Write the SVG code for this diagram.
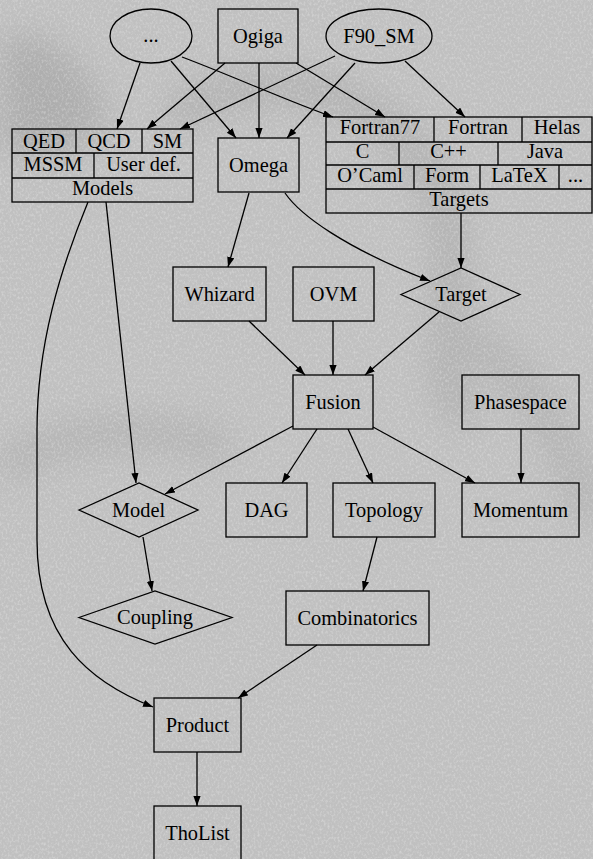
<svg xmlns="http://www.w3.org/2000/svg" width="593" height="859" viewBox="0 0 593 859">
<defs>
<filter id="tex" x="0" y="0" width="100%" height="100%">
<feTurbulence type="fractalNoise" baseFrequency="0.5 0.35" numOctaves="2" seed="7"/>
<feColorMatrix type="matrix" values="0 0 0 0 1  0 0 0 0 1  0 0 0 0 1  1.4 0 0 0 -0.62"/>
</filter>
<filter id="blur" x="-50%" y="-50%" width="200%" height="200%"><feGaussianBlur stdDeviation="16"/></filter>
<marker id="ah" markerWidth="10" markerHeight="8" refX="10" refY="3.6" orient="auto" markerUnits="userSpaceOnUse">
<path d="M0,0 L10,3.6 L0,7.2 z" fill="#000"/>
</marker>
</defs>
<style>
.n rect,.n ellipse,.n polygon,.n line{fill:none;stroke:#000;stroke-width:1.3}
text{font-family:"Liberation Serif","Times New Roman",serif;font-size:20.4px;text-anchor:middle;fill:#000}
#edges path{fill:none;stroke:#000;stroke-width:1.3;marker-end:url(#ah)}
</style>
<rect width="593" height="859" fill="#c0c0c0"/>
<g filter="url(#blur)" opacity="0.6">
<path d="M0,40 C40,20 90,60 110,120 L60,160 L0,150 z" fill="#a2a2a2"/>
<path d="M170,120 C250,60 400,80 440,200 C470,300 420,380 470,420" fill="none" stroke="#a8a8a8" stroke-width="36"/>
<path d="M0,470 C60,430 150,420 230,450" fill="none" stroke="#acacac" stroke-width="36"/>
<path d="M440,330 C500,340 560,420 593,520" fill="none" stroke="#acacac" stroke-width="36"/>
</g>
<rect width="593" height="859" filter="url(#tex)" opacity="0.5"/>

<g id="edges">
<path d="M140,63 L117,129"/>
<path d="M171,61 L236,138"/>
<path d="M182,57 C230,75 290,102 333,117"/>
<path d="M225,63 L147,129"/>
<path d="M259,63 L259,138"/>
<path d="M296,63 L385,117"/>
<path d="M335,56 L180,129"/>
<path d="M355,63 L287,138"/>
<path d="M405,61 L465,117"/>
<path d="M249,193 L228,267"/>
<path d="M285,193 C300,215 345,248 430,281"/>
<path d="M461,213 L461,268"/>
<path d="M249,321 L305,375"/>
<path d="M333,321 L333,375"/>
<path d="M439,312 L365,375"/>
<path d="M106,202 L136,483"/>
<path d="M88,202 C60,270 37,345 37,430 L37,540 C37,640 90,682 153,707"/>
<path d="M293,426 L165,494"/>
<path d="M317,429 L282,483"/>
<path d="M348,429 L373,483"/>
<path d="M373,427 L475,483"/>
<path d="M521,429 L521,483"/>
<path d="M143,537 L152,591"/>
<path d="M377,537 L363,591"/>
<path d="M317,645 L238,698"/>
<path d="M197,752 L197,806"/>
</g>

<g id="dots" class="n"><ellipse cx="151" cy="36" rx="41" ry="27"/><text x="151" y="42">...</text></g>
<g id="ogiga" class="n"><rect x="218" y="9" width="80" height="54"/><text x="258" y="42.5">Ogiga</text></g>
<g id="f90_sm" class="n"><ellipse cx="379" cy="36" rx="53" ry="27"/><text x="379" y="42.5">F90_SM</text></g>

<g id="models" class="n">
<rect x="12" y="129" width="181" height="73"/>
<line x1="12" y1="153" x2="193" y2="153"/>
<line x1="12" y1="178" x2="193" y2="178"/>
<line x1="76" y1="129" x2="76" y2="153"/>
<line x1="142" y1="129" x2="142" y2="153"/>
<line x1="94" y1="153" x2="94" y2="178"/>
<text x="44" y="147.5">QED</text><text x="109" y="147.5">QCD</text><text x="167.5" y="147.5">SM</text>
<text x="53" y="171">MSSM</text><text x="143.5" y="171">User def.</text>
<text x="102.5" y="195">Models</text>
</g>

<g id="omega" class="n"><rect x="218" y="138" width="81" height="54"/><text x="258.5" y="171.5">Omega</text></g>

<g id="targets" class="n">
<rect x="326" y="117" width="266" height="96"/>
<line x1="326" y1="142" x2="592" y2="142"/>
<line x1="326" y1="165" x2="592" y2="165"/>
<line x1="326" y1="189" x2="592" y2="189"/>
<line x1="434" y1="117" x2="434" y2="142"/>
<line x1="522" y1="117" x2="522" y2="142"/>
<line x1="399" y1="142" x2="399" y2="165"/>
<line x1="498" y1="142" x2="498" y2="165"/>
<line x1="414" y1="165" x2="414" y2="189"/>
<line x1="480" y1="165" x2="480" y2="189"/>
<line x1="559" y1="165" x2="559" y2="189"/>
<text x="380" y="134">Fortran77</text><text x="478" y="134">Fortran</text><text x="557" y="134">Helas</text>
<text x="362.5" y="158">C</text><text x="448.5" y="158">C++</text><text x="545" y="158">Java</text>
<text x="370" y="182">O’Caml</text><text x="447" y="182">Form</text><text x="519.5" y="182">LaTeX</text><text x="575.5" y="182">...</text>
<text x="459" y="205.5">Targets</text>
</g>

<g id="whizard" class="n"><rect x="173" y="267" width="93" height="54"/><text x="219.5" y="300.5">Whizard</text></g>
<g id="ovm" class="n"><rect x="293" y="267" width="81" height="54"/><text x="333.5" y="300.5">OVM</text></g>
<g id="target" class="n"><polygon points="401,294.5 461,268 520,294.5 461,321"/><text x="461" y="301">Target</text></g>
<g id="fusion" class="n"><rect x="293" y="375" width="80" height="54"/><text x="333" y="408.5">Fusion</text></g>
<g id="phasespace" class="n"><rect x="462" y="375" width="117" height="54"/><text x="520.5" y="408.5">Phasespace</text></g>
<g id="model" class="n"><polygon points="79,510 139,483 198,510 139,537"/><text x="138.5" y="516.5">Model</text></g>
<g id="dag" class="n"><rect x="226" y="483" width="81" height="54"/><text x="266.5" y="516.5">DAG</text></g>
<g id="topology" class="n"><rect x="333" y="483" width="102" height="54"/><text x="384" y="516.5">Topology</text></g>
<g id="momentum" class="n"><rect x="462" y="483" width="117" height="54"/><text x="520.5" y="516.5">Momentum</text></g>
<g id="coupling" class="n"><polygon points="79,617.5 155,591 232,617.5 155,644"/><text x="155" y="624">Coupling</text></g>
<g id="combinatorics" class="n"><rect x="286" y="591" width="143" height="54"/><text x="357.5" y="624.5">Combinatorics</text></g>
<g id="product" class="n"><rect x="154" y="698" width="87" height="54"/><text x="197.5" y="731.5">Product</text></g>
<g id="tholist" class="n"><rect x="154" y="806" width="87" height="54"/><text x="197.5" y="839.5">ThoList</text></g>
</svg>
